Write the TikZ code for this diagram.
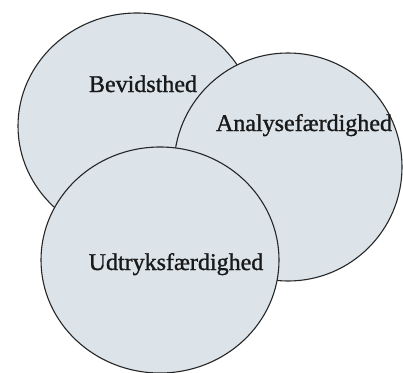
\documentclass[tikz,border=0pt]{standalone}
\usepackage{fontspec}
\setmainfont{Liberation Serif}
\newfontfamily\labelfont[FakeBold=1.2]{Liberation Serif}
\begin{document}
\begin{tikzpicture}[x=1pt,y=-1pt,
  bubble/.style={draw=black!85,line width=1.1pt,fill={rgb,255:red,220;green,228;blue,234}},
  label/.style={anchor=base,inner sep=0pt,font=\labelfont\fontsize{24}{28}\selectfont,text=black!90}]
\useasboundingbox (0,0) rectangle (403,372);
\filldraw[bubble] (137,126) ellipse [x radius=119pt, y radius=113pt];
\filldraw[bubble] (288,167) ellipse [x radius=114pt, y radius=114pt];
\filldraw[bubble] (160,260) ellipse [x radius=119pt, y radius=113pt];
\node[label] (bev) at (143,92) {Bevidsthed};
\node[label] (ana) at (304,131) {Analysefærdighed};
\node[label] (udt) at (176,270) {Udtryksfærdighed};
\end{tikzpicture}
\end{document}
